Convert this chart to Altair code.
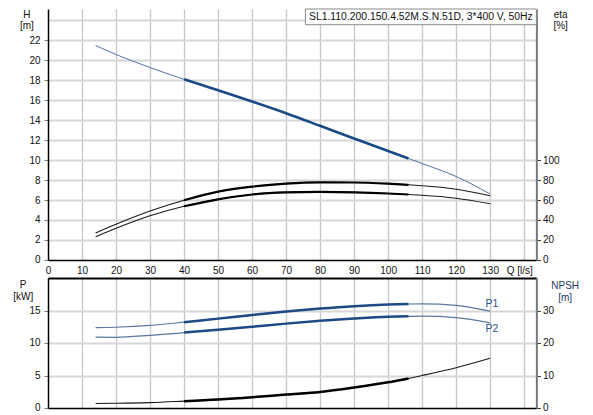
import altair as alt
import pandas as pd

# ---- data ----
Q = [14, 20, 30, 40, 50, 60, 70, 80, 90, 100, 106, 110, 120, 130]
H = [21.45, 20.55, 19.25, 18.07, 16.98, 15.85, 14.68, 13.42, 12.15, 10.9, 10.15, 9.65, 8.35, 6.6]
ETA_1 = [27.0, 35.7, 48.9, 59.7, 68.3, 73.3, 76.4, 77.7, 77.5, 76.3, 75.2, 74.2, 70.8, 64.3]
ETA_2 = [23.3, 31.7, 44.2, 53.7, 60.7, 65.5, 67.6, 68.2, 67.7, 66.5, 65.5, 64.8, 61.8, 56.3]
P_1 = [12.36, 12.42, 12.7, 13.2, 13.75, 14.3, 14.84, 15.3, 15.67, 15.92, 16.0, 16.02, 15.8, 14.9]
P_2 = [10.9, 10.88, 11.18, 11.6, 12.02, 12.5, 12.98, 13.42, 13.78, 14.05, 14.1, 14.12, 13.9, 13.1]
NPSH = [1.4, 1.45, 1.65, 2.1, 2.6, 3.3, 4.15, 4.95, 6.3, 7.9, 9.1, 10.0, 12.4, 15.3]
DUTY_FROM, DUTY_TO = 40, 106

X_TICKS = [0, 10, 20, 30, 40, 50, 60, 70, 80, 90, 100, 110, 120, 130, 140]
H_TICKS = [0, 2, 4, 6, 8, 10, 12, 14, 16, 18, 20, 22, 24]
ETA_TICKS = [0, 20, 40, 60, 80, 100]
P_TICKS = [0, 5, 10, 15, 20]
NPSH_TICKS = [0, 10, 20, 30]
CURVE_LABELS = ["P1", "P2"]
CURVE_LABEL_Q = [130.5, 130.5]
CURVE_LABEL_P = [16.0, 12.1]
TITLE = "SL1.110.200.150.4.52M.S.N.51D, 3*400 V, 50Hz"

FONT = "Liberation Sans"
W = 488.4
H_TOP = 251
H_BOT = 130

rows = []
for name, vals in [("H", H), ("eta1", ETA_1), ("eta2", ETA_2),
                   ("P1", P_1), ("P2", P_2), ("NPSH", NPSH)]:
    for q, v in zip(Q, vals):
        rows.append({"Q": q, "series": name, "v": v,
                     "duty": DUTY_FROM <= q <= DUTY_TO})
df = pd.DataFrame(rows)
lab_df = pd.DataFrame({"label": CURVE_LABELS, "Q": CURVE_LABEL_Q, "v": CURVE_LABEL_P})
title_df = pd.DataFrame({"t": [TITLE]})

xscale = alt.Scale(domain=[0, 143.6], nice=False, zero=False)
grid_v = {"condition": {"test": "datum.value === 0", "value": "transparent"}, "value": "#c6c6c6"}


def grid_h(top):
    return {"condition": [{"test": "datum.value === 0", "value": "transparent"},
                          {"test": "datum.value === %s" % top, "value": "#000000" if top == 20 else "#d6d6d6"}],
            "value": "#d6d6d6"}


x_top = alt.X("Q:Q", scale=xscale, axis=alt.Axis(
    values=X_TICKS, labelExpr="datum.value <= 130 ? datum.label : ''",
    labelFlush=False, labelOverlap=False, ticks=False, labelPadding=6,
    grid=True, gridColor=grid_v, gridWidth=1.3,
    domainColor="#000000", domainWidth=1.5,
    title="Q [l/s]", titleX=471.2, titleY=6, titleAlign="center", titleBaseline="top",
    titleFontWeight="normal", titleFontSize=10, titleColor="#111111"))

x_bot = alt.X("Q:Q", scale=xscale, axis=alt.Axis(
    values=X_TICKS, labels=False, ticks=False, title=None,
    grid=True, gridColor=grid_v, gridWidth=1.3,
    domainColor="#000000", domainWidth=1.5))


def left_axis(values, maxlab, top, title, tx, ty, tcolor="#111111"):
    return alt.Axis(values=values, labelExpr="datum.value <= %s ? datum.label : ''" % maxlab,
                    labelOverlap=False, labelFlush=False,
                    tickSize=4, tickColor={"condition": {"test": "datum.value === %s" % top, "value": "transparent"}, "value": "#808080"},
                    labelPadding=4, grid=True, gridColor=grid_h(top), gridWidth=2,
                    domainColor="#000000", domainWidth=1.5,
                    title=title, titleAngle=0, titleX=tx, titleY=ty, titleAlign="center",
                    titleBaseline="top", titleLineHeight=12, titleFontWeight="normal",
                    titleFontSize=10, titleColor=tcolor)


def right_axis(values, title, tx, ty, tcolor="#111111"):
    return alt.Axis(orient="right", values=values, labelOverlap=False, labelFlush=False,
                    tickSize=4, tickColor="#333333", labelPadding=2, grid=False,
                    domainColor="#7a7a7a", domainWidth=2,
                    title=title, titleAngle=0, titleX=tx, titleY=ty, titleAlign="center",
                    titleBaseline="top", titleLineHeight=12, titleFontWeight="normal",
                    titleFontSize=10, titleColor=tcolor)


def curves(series, x, y, thin_color, thick_color, thin_w, thick_w):
    base = alt.Chart(df).transform_filter(
        alt.FieldOneOfPredicate(field="series", oneOf=series))
    thin = base.mark_line(interpolate="monotone", color=thin_color, strokeWidth=thin_w).encode(
        x=x, y=y, detail="series:N")
    thick = base.transform_filter("datum.duty").mark_line(
        interpolate="monotone", color=thick_color, strokeWidth=thick_w).encode(
        x=x, y=y, detail="series:N")
    return thin + thick


y_h = alt.Y("v:Q", scale=alt.Scale(domain=[0, 25.1], nice=False, zero=False),
            axis=left_axis(H_TICKS, 22, 24, ["H", "[m]"], -21.6, 0))
y_eta = alt.Y("v:Q", scale=alt.Scale(domain=[0, 251], nice=False, zero=False),
              axis=right_axis(ETA_TICKS, ["eta", "[%]"], 23.8, 0))
y_p = alt.Y("v:Q", scale=alt.Scale(domain=[0, 20], nice=False, zero=False),
            axis=left_axis(P_TICKS, 15, 20, ["P", "[kW]"], -25.3, 1.3))
y_npsh = alt.Y("v:Q", scale=alt.Scale(domain=[0, 40], nice=False, zero=False),
               axis=right_axis(NPSH_TICKS, ["NPSH", "[m]"], 28.3, 2.3, "#1c3a66"))

h_layer = curves(["H"], x_top, y_h, "#5272a3", "#1a4a85", 1, 2.6)
eta_layer = curves(["eta1", "eta2"], x_top, y_eta, "#1a1a1a", "#000000", 1.1, 2.2)

box = alt.Chart(title_df).mark_rect(fill="white", stroke="#8a8a8a", strokeWidth=1).encode(
    x=alt.value(257.4), x2=alt.value(W), y=alt.value(0), y2=alt.value(15.7))
box_text = alt.Chart(title_df).mark_text(align="left", baseline="middle", fontSize=10.4,
                                          color="#111111", font=FONT).encode(
    x=alt.value(261), y=alt.value(8), text="t:N")

top = alt.layer(h_layer, eta_layer, box, box_text).resolve_scale(y="independent").properties(
    width=W, height=H_TOP)

p_layer = curves(["P1", "P2"], x_bot, y_p, "#5a78a3", "#1d4a85", 1.2, 2.5)
p_text = alt.Chart(lab_df).mark_text(align="center", baseline="middle", fontSize=10.5,
                                      color="#2b5385", font=FONT).encode(
    x=x_bot, y=y_p, text="label:N")
p_group = alt.layer(p_layer, p_text)
npsh_layer = curves(["NPSH"], x_bot, y_npsh, "#1a1a1a", "#000000", 1.1, 2.5)

bottom = alt.layer(p_group, npsh_layer).resolve_scale(y="independent").properties(
    width=W, height=H_BOT)

chart = alt.vconcat(top, bottom, spacing=18, bounds="flush").properties(
    padding={"left": 4, "top": 0, "right": 4, "bottom": 0}
).configure(font=FONT).configure_view(stroke=None).configure_axis(
    labelFont=FONT, titleFont=FONT, labelFontSize=10, labelColor="#111111")

chart.save("out.html", embed_options={"renderer": "svg", "actions": False})
